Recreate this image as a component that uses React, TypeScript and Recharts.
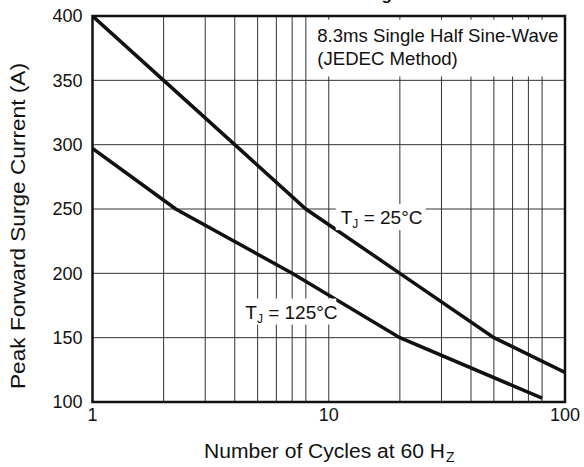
import { LineChart, Line, XAxis, YAxis, CartesianGrid, ReferenceArea, ReferenceDot, Label } from 'recharts';

const FONT = '"Liberation Sans", Arial, Helvetica, sans-serif';
const INK = '#111';

// log grid: every integer cycle count per decade, labels only on decades
const cycleTicks = [1, 2, 3, 4, 5, 6, 7, 8, 9, 10, 20, 30, 40, 50, 60, 70, 80, 90, 100];
const labeledCycles = [1, 10, 100];
const surgeTicks = [100, 150, 200, 250, 300, 350, 400];

// TJ = 25°C
const cycles25 = [1, 2, 4, 8, 20, 50, 100];
const surge25 = [400, 350, 300, 250, 200, 150, 123];

// TJ = 125°C
const cycles125 = [1, 2.25, 7, 20, 80];
const surge125 = [297, 250, 200, 150, 103];

const series25 = cycles25.map((x, i) => ({ x, y: surge25[i] }));
const series125 = cycles125.map((x, i) => ({ x, y: surge125[i] }));

function TempTag(props: any) {
  const { cx, cy, temp, w } = props;
  const left = cx - w / 2;
  return (
    <g>
      <rect x={left} y={cy - 13} width={w} height={26} fill="#fff" />
      <text x={left + 5} y={cy + 7} fontSize={19} fontFamily={FONT} fill={INK}>
        T
        <tspan fontSize={12} dy={4}>J</tspan>
        <tspan dy={-4}>{` = ${temp}°C`}</tspan>
      </text>
    </g>
  );
}

function NoteLabel(props: any) {
  const { viewBox } = props;
  const x = viewBox.x + 7;
  const y = viewBox.y;
  return (
    <text x={x} y={y + 22} fontSize={18.6} fontFamily={FONT} fill={INK}>
      <tspan x={x}>8.3ms Single Half Sine-Wave</tspan>
      <tspan x={x} dy={23}>(JEDEC Method)</tspan>
    </text>
  );
}

function XTitle() {
  return (
    <g fontFamily={FONT} fill={INK}>
      <text x={204} y={458} fontSize={20} textLength={241} lengthAdjust="spacingAndGlyphs">
        Number of Cycles at 60 H
      </text>
      <text x={446} y={462} fontSize={14}>
        Z
      </text>
    </g>
  );
}

function YTitle() {
  return (
    <text
      x={25}
      y={226}
      textAnchor="middle"
      transform="rotate(-90, 25, 226)"
      fontSize={20}
      textLength={326}
      lengthAdjust="spacingAndGlyphs"
      fontFamily={FONT}
      fill={INK}
    >
      Peak Forward Surge Current (A)
    </text>
  );
}

export default function App() {
  return (
    <div style={{ position: 'absolute', left: 0, top: 0, background: '#fff' }}>
      <LineChart width={584} height={467} margin={{ top: 16, right: 19, bottom: 0, left: 0 }}>
        {/* chart title sits above the frame; only its descender shows */}
        <text x={392} y={-0.5} textAnchor="end" fontSize={17} fontWeight="bold" fontFamily={FONT} fill={INK}>
          Maximum Forward Current Rating
        </text>
        <CartesianGrid stroke="#333" strokeWidth={1} />
        <XAxis
          type="number"
          dataKey="x"
          scale="log"
          domain={[1, 100]}
          ticks={cycleTicks}
          allowDataOverflow
          tickFormatter={(v: number) => (labeledCycles.includes(v) ? String(v) : '')}
          tickLine={false}
          axisLine={false}
          tickSize={0}
          tickMargin={6}
          height={65}
          tick={{ fill: INK, fontSize: 18, fontFamily: FONT }}
        >
          <Label content={<XTitle />} />
        </XAxis>
        <YAxis
          type="number"
          dataKey="y"
          domain={[100, 400]}
          ticks={surgeTicks}
          allowDataOverflow
          tickLine={false}
          axisLine={false}
          tickSize={0}
          tickMargin={10}
          width={92.5}
          tick={{ fill: INK, fontSize: 18, fontFamily: FONT }}
        >
          <Label content={<YTitle />} />
        </YAxis>
        <ReferenceArea
          x1={8.35}
          x2={100}
          y1={353}
          y2={397}
          fill="#fff"
          fillOpacity={1}
          stroke="none"
          label={<NoteLabel />}
        />
        <ReferenceDot
          x={16.6}
          y={243.7}
          r={0}
          shape={(p: any) => <TempTag {...p} temp={25} w={90} />}
        />
        <ReferenceDot
          x={6.74}
          y={170.3}
          r={0}
          shape={(p: any) => <TempTag {...p} temp={125} w={96} />}
        />
        <Line
          data={series25}
          dataKey="y"
          type="linear"
          stroke={INK}
          strokeWidth={3.5}
          dot={false}
          isAnimationActive={false}
        />
        <Line
          data={series125}
          dataKey="y"
          type="linear"
          stroke={INK}
          strokeWidth={3.5}
          dot={false}
          isAnimationActive={false}
        />
        <ReferenceArea x1={1} x2={100} y1={100} y2={400} fill="none" stroke={INK} strokeWidth={2.5} />
      </LineChart>
    </div>
  );
}
